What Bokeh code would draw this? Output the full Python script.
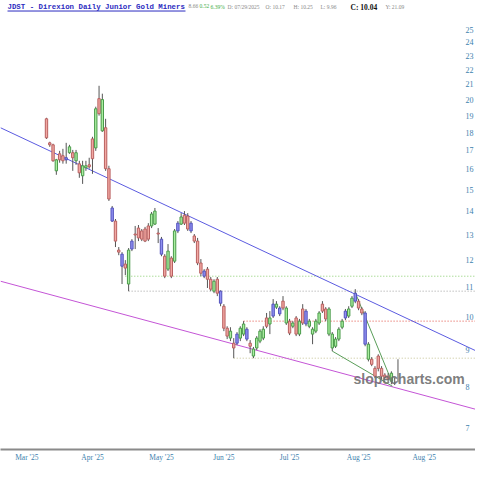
import math
from bokeh.plotting import figure
from bokeh.models import FixedTicker, NumeralTickFormatter, Label, Range1d
from bokeh.embed import file_html
from bokeh.resources import INLINE

# ---- data ----
opens = [18.81, 17.42, 17.31, 15.93, 16.82, 16.72, 16.61, 16.88, 16.88, 16.45,
         16.29, 15.68, 16.09, 16.24, 17.64, 17.14, 20.06, 18.10, 18.28, 16.04,
         14.15, 13.57, 12.37, 12.21, 11.83, 11.10, 12.73, 13.02, 13.27, 13.15,
         13.23, 13.36, 13.36, 13.44, 13.06, 12.81, 12.13, 11.64, 12.06, 11.94,
         13.48, 13.44, 13.83, 13.79, 13.48, 12.94, 12.73, 11.87, 11.57, 11.64,
         11.27, 10.85, 11.27, 10.85,
         10.34, 9.64, 9.34, 9.19, 9.46, 9.34, 9.46, 9.61, 9.19, 8.82,
         9.05, 9.25, 9.34, 9.70, 9.96, 10.02, 10.41, 10.09, 10.51, 10.28,
         9.49, 9.80, 9.46, 9.86, 9.80, 10.18, 9.86, 9.46, 9.55, 9.80,
         10.18, 9.93, 10.25, 9.46, 9.10, 9.31, 9.67, 9.96, 10.02, 10.34, 10.51,
         10.28, 10.25, 10.12, 9.16, 8.73, 8.27, 8.82, 8.48, 8.30, 8.27, 8.35, 8.19, 8.14]
highs = [18.87, 17.48, 17.37, 16.55, 16.98, 17.09, 17.42, 17.31, 17.03, 17.03,
         16.45, 16.45, 16.45, 16.61, 17.76, 19.55, 20.90, 20.38, 18.81, 16.19,
         14.24, 13.66, 12.49, 12.29, 11.98, 12.45, 12.81, 13.36, 13.40, 13.23,
         13.32, 13.48, 13.97, 14.15, 13.27, 12.90, 12.21, 12.61, 12.13, 13.23,
         13.57, 13.92, 14.01, 13.92, 13.57, 13.02, 12.86, 12.02, 11.64, 11.72,
         11.35, 11.27, 11.35, 10.88,
         10.41, 9.70, 9.67, 9.34, 9.52, 9.70, 9.86, 9.67, 9.28, 9.08,
         9.40, 9.61, 9.70, 10.12, 10.18, 10.58, 10.51, 10.34, 10.68, 10.34,
         9.93, 9.86, 10.02, 9.93, 10.41, 10.25, 9.93, 9.67, 9.93, 10.18,
         10.51, 10.31, 10.31, 9.52, 9.37, 9.67, 9.93, 10.25, 10.34, 10.68, 10.92,
         10.58, 10.31, 10.18, 9.22, 8.79, 8.54, 8.87, 8.54, 8.35, 8.35, 8.40, 8.24, 8.73]
lows = [17.64, 17.20, 16.40, 15.73, 16.35, 16.30, 16.30, 16.82, 15.93, 16.24,
        15.58, 15.28, 15.93, 16.04, 15.78, 16.98, 19.00, 18.04, 15.93, 14.47,
        13.53, 12.49, 12.17, 11.10, 11.42, 10.85, 12.33, 12.41, 12.73, 12.73,
        12.69, 12.73, 13.27, 13.40, 12.65, 12.13, 11.31, 11.57, 11.31, 11.87,
        13.06, 13.40, 13.40, 13.15, 13.06, 12.65, 11.79, 11.38, 11.31, 10.96,
        10.85, 10.78, 10.68, 10.34,
        9.55, 9.31, 9.25, 8.76, 9.13, 9.25, 9.40, 9.25, 8.90, 8.76,
        8.99, 9.19, 9.28, 9.64, 9.46, 9.96, 10.25, 10.02, 10.21, 9.74,
        9.43, 9.64, 9.40, 9.40, 9.74, 9.70, 9.64, 9.16, 9.49, 9.74,
        10.12, 9.86, 9.40, 8.96, 9.05, 9.25, 9.61, 9.89, 9.96, 10.28, 10.44,
        10.21, 10.05, 9.10, 8.67, 8.54, 8.22, 8.40, 8.19, 8.17, 8.11, 8.06, 8.04, 8.11]
closes = [17.70, 17.31, 16.45, 16.50, 16.50, 16.45, 16.50, 17.20, 16.61, 16.88,
          15.83, 16.19, 16.19, 16.14, 16.56, 19.42, 19.12, 20.00, 16.04, 14.56,
          13.57, 12.73, 12.29, 11.75, 11.68, 12.37, 12.41, 12.98, 12.86, 12.81,
          12.73, 12.81, 13.88, 14.01, 13.02, 12.21, 11.38, 12.33, 11.38, 13.15,
          13.15, 13.75, 13.48, 13.23, 13.15, 12.73, 11.87, 11.49, 11.38, 11.27,
          10.92, 11.20, 10.78, 10.44,
          9.64, 9.40, 9.55, 9.05, 9.19, 9.64, 9.77, 9.31, 9.10, 9.02,
          9.34, 9.55, 9.61, 9.96, 9.77, 10.41, 10.31, 10.28, 10.28, 9.80,
          9.86, 9.70, 9.96, 9.46, 10.25, 9.77, 9.70, 9.61, 9.86, 10.12,
          10.41, 10.25, 9.46, 9.05, 9.31, 9.61, 9.86, 10.18, 10.25, 10.61, 10.78,
          10.51, 10.12, 9.16, 8.73, 8.59, 8.48, 8.48, 8.27, 8.24, 8.19, 8.14, 8.14, 8.66]
kinds = list("rrrgrrbgrgrggrrgrgrr"
             "brrbrgbrrrrrggrbrgrgbgrrbrrrbrrgrb"
             "rrgrbggbrggggrgbgbrgrgrgrbggggrrgggggbg"
             "gbrrbgrrrrrrg")

tick_pos = [-6, 14, 35, 54, 74, 95, 115]
tick_labels = ["Mar '25", "Apr '25", "May '25", "Jun '25", "Jul '25", "Aug '25", "Aug '25"]
price_ticks = list(range(7, 26))

# trend lines: (bar index, price) end points
blue_line_x = [-14.0, 135.5]
blue_line_y = [18.28, 8.76]
violet_line_x = [-14.0, 135.5]
violet_line_y = [11.20, 7.34]
green1_x = [87, 105.3]
green1_y = [8.96, 8.01]
green2_x = [94, 105.3]
green2_y = [10.80, 8.09]
# horizontal dotted levels: (start index, price, colour)
levels = [(24, 11.38, "#86cc6a"), (25, 10.85, "#a0a0a0"), (60, 9.86, "#e04c40"), (57, 8.76, "#c4c092")]

# view window (bar index / price)
X0, X1 = -14.0, 130.6
Y0, Y1 = 6.545, 27.44
W, FH = 475, 448

def sx(px):
    # picture x pixel -> bar index
    return X0 + px / W * (X1 - X0)

def sy(py):
    # picture y pixel -> price on the log scale
    return math.exp(math.log(Y1) - py / FH * math.log(Y1 / Y0))

p = figure(width=475, height=464, title=None,
           x_range=Range1d(X0, X1), y_range=Range1d(Y0, Y1),
           y_axis_type="log", y_axis_location="right",
           output_backend="svg", toolbar_location=None,
           min_border_left=0, min_border_right=0, min_border_top=0, min_border_bottom=0)
p.outline_line_color = None
p.grid.visible = False
p.background_fill_color = "white"

# y axis drawn inside the frame near the right edge
ya = p.yaxis[0]
ya.ticker = FixedTicker(ticks=price_ticks, minor_ticks=[])
ya.formatter = NumeralTickFormatter(format="0")
ya.fixed_location = sx(463)
ya.axis_line_color = None
ya.major_tick_line_color = None
ya.minor_tick_line_color = None
ya.major_tick_out = 0
ya.major_tick_in = 0
ya.major_label_standoff = 2
ya.major_label_text_font = "Liberation Serif"
ya.major_label_text_font_size = "8px"
ya.major_label_text_color = "#3d7fae"

xa = p.xaxis[0]
xa.ticker = FixedTicker(ticks=tick_pos, minor_ticks=[])
xa.major_label_overrides = {t: l for t, l in zip(tick_pos, tick_labels)}
xa.axis_line_color = "#8a8a8a"
xa.axis_line_width = 2
xa.major_tick_line_color = None
xa.minor_tick_line_color = None
xa.major_tick_out = 0
xa.major_tick_in = 0
xa.major_label_standoff = 3
xa.major_label_text_font = "Liberation Serif"
xa.major_label_text_font_size = "7.5px"
xa.major_label_text_color = "#3d7fae"

# levels
for start, lvl, col in levels:
    p.line([start, X1 + 5], [lvl, lvl], line_color=col, line_width=1, line_dash="1 2")

# trend lines
p.line(blue_line_x, blue_line_y, line_color="#5b5be0", line_width=1)
p.line(violet_line_x, violet_line_y, line_color="#c455d6", line_width=1)
p.line(green1_x, green1_y, line_color="#5a9e5a", line_width=1)
p.line(green2_x, green2_y, line_color="#5a9e5a", line_width=1)

# candles
fill = {"g": "#a9ee9f", "r": "#f2a8a2", "b": "#9090f2"}
edge = {"g": "#4a9a4a", "r": "#b86060", "b": "#5252bc"}
n = len(opens)
idx = list(range(n))
top = [max(o, c) for o, c in zip(opens, closes)]
bot = [min(o, c) for o, c in zip(opens, closes)]
p.segment(x0=idx, y0=lows, x1=idx, y1=highs, line_color="#555555", line_width=1)
p.vbar(x=idx, width=0.72, top=top, bottom=bot,
       fill_color=[fill[k] for k in kinds], line_color=[edge[k] for k in kinds], line_width=1)

# watermark
p.add_layout(Label(x=sx(353), y=sy(378), text="slopecharts.com", text_font="Liberation Sans",
                   text_font_style="bold", text_font_size="14px", text_color="#6e6e6e",
                   text_alpha=0.9, text_baseline="middle"))

# header texts
p.add_layout(Label(x=sx(7), y=sy(2), text="JDST - Direxion Daily Junior Gold Miners",
                   text_font="Liberation Mono", text_font_style="bold", text_font_size="7.4px",
                   text_color="#2b2bc0", text_baseline="top"))
p.line([sx(7), sx(185)], [sy(10.5), sy(10.5)], line_color="#2b2bc0", line_width=1)
segs = [(188, "8.66", "#8a8a8a", "normal", "5.5px"),
        (199, "0.52", "#3fae3f", "normal", "5.5px"),
        (210, "6.39%", "#3fae3f", "normal", "5.5px"),
        (227, "D: 07/29/2025", "#8a8a8a", "normal", "5.5px"),
        (265, "O: 10.17", "#8a8a8a", "normal", "5.5px"),
        (293, "H: 10.25", "#8a8a8a", "normal", "5.5px"),
        (320, "L:  9.96", "#8a8a8a", "normal", "5.5px"),
        (350, "C: 10.04", "#111111", "bold", "7.5px"),
        (385, "Y: 21.09", "#8a8a8a", "normal", "5.5px")]
for px, t, col, sty, sz in segs:
    p.add_layout(Label(x=sx(px), y=sy(2.5 if sty == "bold" else 3.5), text=t, text_font="Liberation Serif",
                       text_font_style=sty, text_font_size=sz, text_color=col, text_baseline="top"))

open("out.html", "w").write(file_html(p, INLINE))
